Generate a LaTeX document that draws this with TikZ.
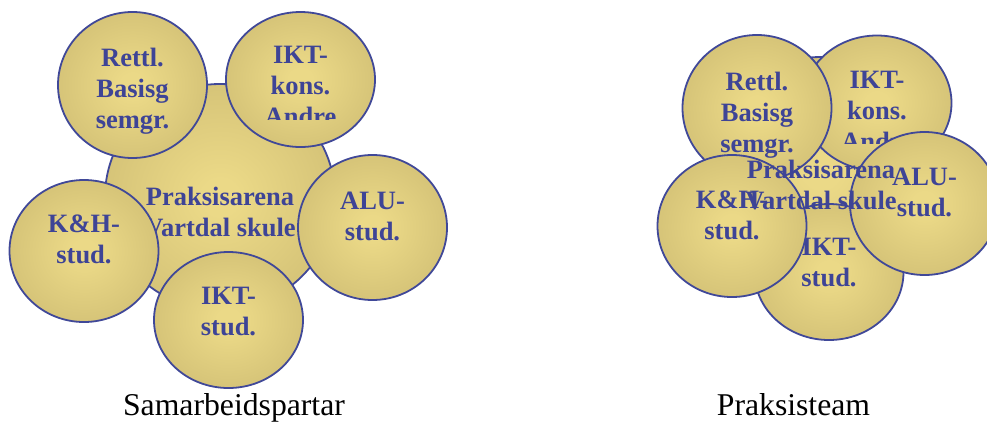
\documentclass[tikz,border=0pt]{standalone}
\usepackage{fontspec}
\setmainfont{Liberation Serif}
\usetikzlibrary{shapes.geometric}
\definecolor{rim}{HTML}{404898}
\definecolor{inkblue}{HTML}{3E4496}
\definecolor{goldhi}{HTML}{EBD987}
\definecolor{goldmid}{HTML}{D3C176}
\definecolor{goldlo}{HTML}{AE9E5A}
\pgfdeclareradialshading{goldball}{\pgfpointorigin}{color(0bp)=(goldhi); color(4bp)=(goldhi); color(28bp)=(goldmid); color(50bp)=(goldlo)}

\begin{document}
\begin{tikzpicture}[x=1pt, y=-1pt,
  ball/.style={ellipse, shading=goldball, draw=rim, line width=1.8pt, inner sep=0pt, minimum width=149pt},
  balltext/.style={anchor=base, align=center, text=inkblue, font=\fontsize{26.5}{31}\selectfont\bfseries},
  caption/.style={anchor=base, font=\fontsize{31.7}{38}\selectfont}
]
\useasboundingbox (0,0) rectangle (987,421);

% Samarbeidspartar: arena in the middle, partners round it
% (base of a text node sits on its last line)
\node[ball, minimum width=230pt, minimum height=226pt] (arenaA) at (220,197) {};
\node[balltext] (arenaAtxt) at ([yshift=-39pt]arenaA.center) {Praksisarena\\Vartdal skule};
\node[ball, minimum height=146pt] (rettlA) at (132.5,85) {};
\node[balltext] (rettlAtxt) at ([yshift=-43pt]rettlA.center) {Rettl.\\Basisg\\semgr.};
\node[ball, minimum height=135pt] (iktkonsA) at (300.5,79.5) {};
\begin{scope}
  \clip ([xshift=-75pt,yshift=75pt]iktkonsA.center) rectangle ([xshift=75pt,yshift=-40pt]iktkonsA.center);
  \node[balltext] (iktkonsAtxt) at ([yshift=-45.5pt]iktkonsA.center) {IKT-\\kons.\\Andre};
\end{scope}
\node[ball, minimum height=142pt] (khA) at (84,251) {};
\node[balltext] (khAtxt) at ([yshift=-12pt]khA.center) {K\&H-\\stud.};
\node[ball, minimum height=145pt] (aluA) at (372.5,227.5) {};
\node[balltext] (aluAtxt) at ([yshift=-12.5pt]aluA.center) {ALU-\\stud.};
\node[ball, minimum height=136pt] (iktstudA) at (228.5,320) {};
\node[balltext] (iktstudAtxt) at ([yshift=-15pt]iktstudA.center) {IKT-\\stud.};
\node[caption] (capA) at (234,415) {Samarbeidspartar};

% Praksisteam: same circles pushed together
\node[ball, minimum width=230pt, minimum height=226pt] (arenaB) at (821,170) {};
\node[ball, minimum height=135pt] (iktkonsB) at (877,103) {};
\begin{scope}
  \clip ([xshift=-75pt,yshift=75pt]iktkonsB.center) rectangle ([xshift=75pt,yshift=-40pt]iktkonsB.center);
  \node[balltext] (iktkonsBtxt) at ([yshift=-47pt]iktkonsB.center) {IKT-\\kons.\\Andre};
\end{scope}
\node[ball, minimum height=146pt] (rettlB) at (757,108) {};
\node[balltext] (rettlBtxt) at ([yshift=-44pt]rettlB.center) {Rettl.\\Basisg\\semgr.};
\node[ball, minimum height=136pt] (iktstudB) at (829,272) {};
\node[balltext] (iktstudBtxt) at ([yshift=-14pt]iktstudB.center) {IKT-\\stud.};
\node[ball, minimum height=142pt] (khB) at (732,226) {};
\node[balltext] (khBtxt) at ([yshift=-13pt]khB.center) {K\&H-\\stud.};
\node[ball, minimum height=143pt] (aluB) at (924.5,203.5) {};
\node[balltext] (aluBtxt) at ([yshift=-12.5pt]aluB.center) {ALU-\\stud.};
\node[balltext] (arenaBtxt) at ([yshift=-39pt]arenaB.center) {Praksisarena\\Vartdal skule};
\node[caption] (capB) at (793.5,415) {Praksisteam};
\end{tikzpicture}
\end{document}
